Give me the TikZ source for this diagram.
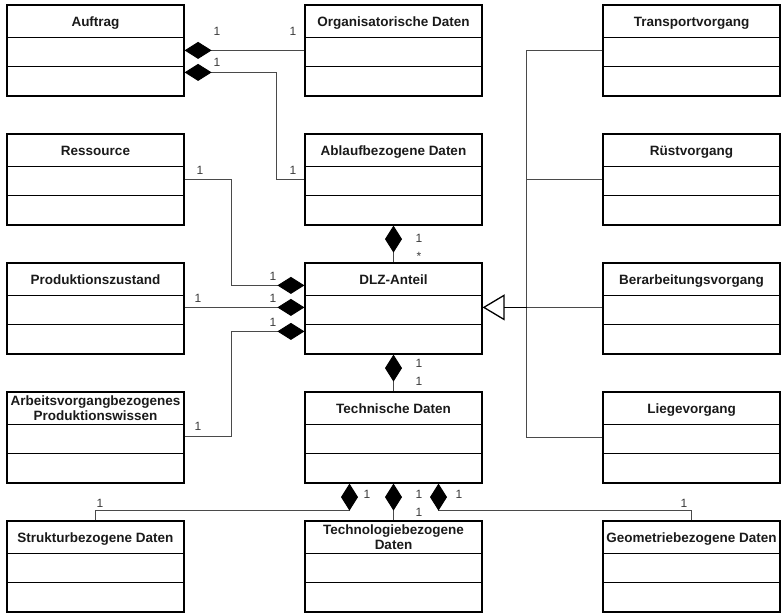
\documentclass[tikz,border=0pt]{standalone}
\usepackage{fontspec}
\setmainfont{Liberation Sans}
\usetikzlibrary{calc,arrows.meta}

\definecolor{linegray}{HTML}{4A4A4A}
\definecolor{labelgray}{HTML}{3A3A3A}
\definecolor{titleblack}{HTML}{1A1A1A}

\tikzset{
  umlbox/.style={draw=black, line width=1.2pt, minimum width=177pt,
    minimum height=91pt, inner sep=0pt},
  umldivider/.style={draw=black, line width=1.2pt},
  umltitle/.style={text=titleblack, align=center, inner sep=0pt,
    font=\bfseries\fontsize{13.5}{15.5}\selectfont},
  conn/.style={draw=linegray, line width=0.9pt},
  comp/.style={conn, -{Diamond[length=27pt,width=17pt,color=black,fill=black]}},
  genline/.style={draw=black, line width=1.8pt,
    -{Triangle[open,length=22pt,width=26pt,line width=1.3pt,color=black,fill=white]}},
  mult/.style={text=labelgray, inner sep=0pt, font=\fontsize{12}{14}\selectfont},
}

% class box frame with its two compartment dividers: name, left edge, top edge
\newcommand\classframe[3]{%
  \node[umlbox] (#1) at (#2+88.5,#3+45.5) {};
  \draw[umldivider] ($(#1.north west)+(0,33)$) -- ($(#1.north east)+(0,33)$);
  \draw[umldivider] ($(#1.north west)+(0,62)$) -- ($(#1.north east)+(0,62)$);
}
% class with a one-line title
\newcommand\classbox[4]{%
  \classframe{#1}{#2}{#3}
  \node[umltitle, anchor=base] (#1-title) at ($(#1.north)+(0,22)$) {#4};
}
% class with a two-line title
\newcommand\classboxtwo[4]{%
  \classframe{#1}{#2}{#3}
  \node[umltitle] (#1-title) at ($(#1.north)+(0,17)$) {#4};
}

\begin{document}
\begin{tikzpicture}[x=1pt,y=-1pt]
\useasboundingbox (0,0) rectangle (783,612);

% left column
\classbox{auftrag}{7}{5}{Auftrag}
\classbox{ressource}{7}{134}{Ressource}
\classbox{prodzust}{7}{263}{Produktionszustand}
\classboxtwo{arbeit}{7}{392}{Arbeitsvorgangbezogenes\\Produktionswissen}
\classbox{struktur}{7}{521}{Strukturbezogene Daten}

% middle column
\classbox{orga}{305}{5}{Organisatorische Daten}
\classbox{ablauf}{305}{134}{Ablaufbezogene Daten}
\classbox{dlz}{305}{263}{DLZ-Anteil}
\classbox{technisch}{305}{392}{Technische Daten}
\classboxtwo{technologie}{305}{521}{Technologiebezogene\\Daten}

% right column
\classbox{transport}{603}{5}{Transportvorgang}
\classbox{ruest}{603}{134}{Rüstvorgang}
\classbox{bearb}{603}{263}{Berarbeitungsvorgang}
\classbox{liege}{603}{392}{Liegevorgang}
\classbox{geometrie}{603}{521}{Geometriebezogene Daten}

% compositions into Auftrag
\draw[comp] ($(orga.north west)+(0,46)$) -- ($(auftrag.north east)+(0,46)$);
\draw[comp] ($(ablauf.north west)+(0,46)$) -- ++(-28,0)
  |- ($(auftrag.north east)+(0,68)$);

% compositions into DLZ-Anteil
\draw[comp] ($(ressource.north east)+(0,46)$) -| ($(dlz.north west)+(-73,23)$)
  -- ($(dlz.north west)+(0,23)$);
\draw[comp] ($(prodzust.north east)+(0,45)$) -- ($(dlz.north west)+(0,45)$);
\draw[comp] ($(arbeit.north east)+(0,45)$) -| ($(dlz.north west)+(-73,69)$)
  -- ($(dlz.north west)+(0,69)$);
\draw[comp] (dlz.north) -- (ablauf.south);
\draw[comp] (technisch.north) -- (dlz.south);

% compositions into Technische Daten
\draw[comp] (struktur.north) -- ++(0,-10) -| ($(technisch.south)+(-44,0)$);
\draw[comp] (technologie.north) -- (technisch.south);
\draw[comp] (geometrie.north) -- ++(0,-10) -| ($(technisch.south)+(45,0)$);

% generalization of the process steps
\coordinate (gbus) at ($(dlz.north east)+(44,45)$);
\draw[conn] ($(transport.north west)+(0,46)$) -| (gbus);
\draw[conn] ($(ruest.north west)+(0,46)$) -| (gbus);
\draw[conn] ($(bearb.north west)+(0,45)$) -- (gbus);
\draw[conn] ($(liege.north west)+(0,46)$) -| (gbus);
\draw[genline] (gbus) -- ($(dlz.north east)+(0,45)$);

% multiplicities
\node[mult] (m1) at (217,31) {1};
\node[mult] (m2) at (293,31) {1};
\node[mult] (m3) at (217,62) {1};
\node[mult] (m4) at (293,170) {1};
\node[mult] (m5) at (200,170) {1};
\node[mult] (m6) at (273,276) {1};
\node[mult] (m7) at (198,298) {1};
\node[mult] (m8) at (273,298) {1};
\node[mult] (m9) at (198,426) {1};
\node[mult] (m10) at (273,322) {1};
\node[mult] (m11) at (419,238) {1};
\node[mult] (m12) at (419,256) {*};
\node[mult] (m13) at (419,363) {1};
\node[mult] (m14) at (419,381) {1};
\node[mult] (m15) at (367,494) {1};
\node[mult] (m16) at (100,503) {1};
\node[mult] (m17) at (419,494) {1};
\node[mult] (m18) at (419,512) {1};
\node[mult] (m19) at (459,494) {1};
\node[mult] (m20) at (684,503) {1};
\end{tikzpicture}
\end{document}
